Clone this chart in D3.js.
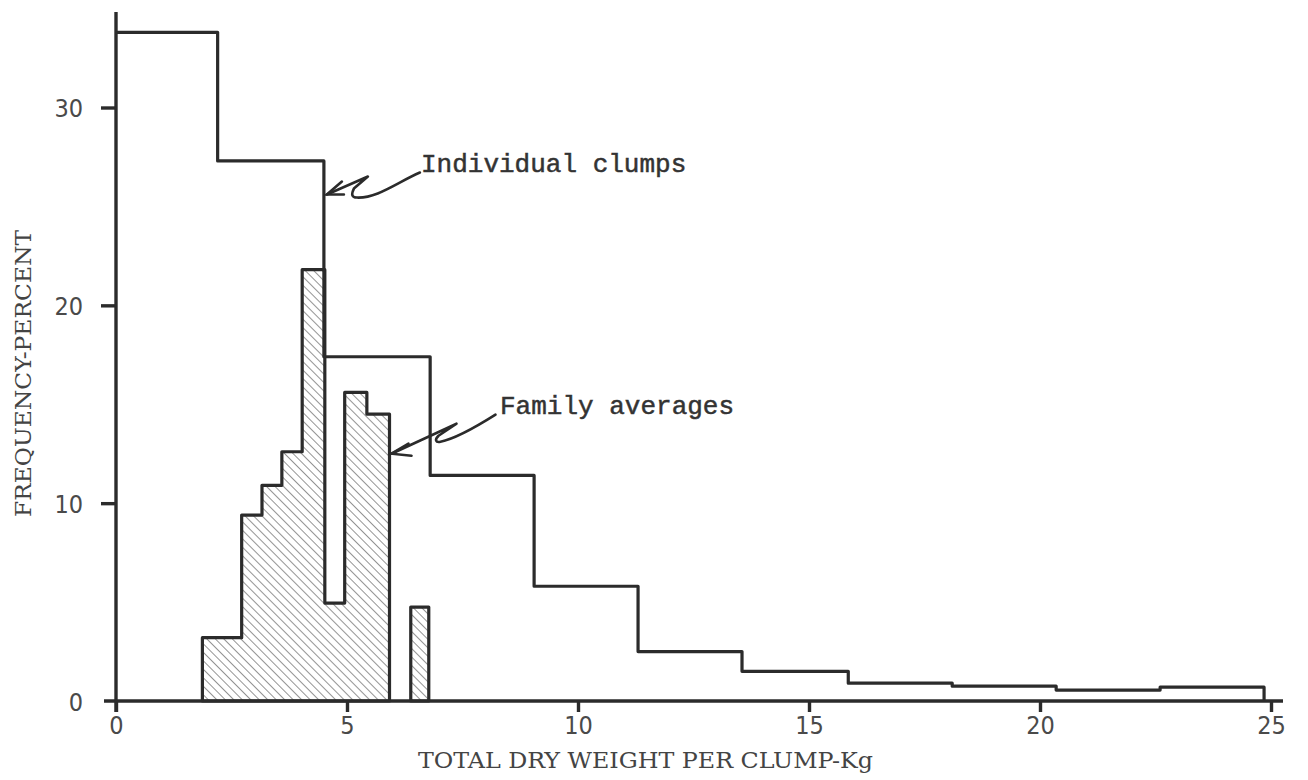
<!DOCTYPE html>
<html>
<head>
<meta charset="utf-8">
<script src="https://cdn.jsdelivr.net/npm/d3@7"></script>
<style>
  body { margin: 0; background: #fff; }
  svg { display: block; }
</style>
</head>
<body>
<script>
'use strict';

// individual clumps, bins of about 2.25 kg
let clumpEdges = [0, 2.2, 4.5, 6.8, 9.05, 11.3, 13.55, 15.85, 18.1, 20.35, 22.6, 24.85];
let clumpPct = [33.8, 27.3, 17.4, 11.4, 5.8, 2.5, 1.5, 0.9, 0.75, 0.55, 0.7];

// family averages, bins of about 0.45 kg (0 = empty bin)
let familyEdges = [1.87, 2.72, 3.16, 3.59, 4.03, 4.52, 4.95, 5.43, 5.92, 6.38, 6.77];
let familyPct = [3.2, 9.4, 10.9, 12.6, 21.8, 4.95, 15.6, 14.5, 0, 4.75];

let xTicks = [0, 5, 10, 15, 20, 25];
let yTicks = [0, 10, 20, 30];

const ink = '#2b2b2b';

let svg = d3.select('body').append('svg')
  .attr('width', 1308)
  .attr('height', 780);

let xScale = d3.scaleLinear().domain([0, 25]).range([116, 1271]);
let yScale = d3.scaleLinear().domain([0, 30]).range([701, 107.5]);

// hatch pattern for family averages
let defs = svg.append('defs');
defs.append('pattern')
  .attr('id', 'hatch')
  .attr('patternUnits', 'userSpaceOnUse')
  .attr('width', 6)
  .attr('height', 6)
  .attr('patternTransform', 'rotate(-45)')
  .append('line')
    .attr('x1', 0).attr('y1', 0)
    .attr('x2', 0).attr('y2', 6)
    .attr('stroke', '#666')
    .attr('stroke-width', 1.4);

// split family bins into runs of non-empty bins
let runs = [];
let cur = null;
familyPct.forEach(function(v, i) {
  if (v > 0) {
    if (!cur) { cur = []; runs.push(cur); }
    cur.push({x: familyEdges[i], y: v});
    cur.end = familyEdges[i + 1];
  } else {
    cur = null;
  }
});
runs.forEach(function(r) { r.push({x: r.end, y: r[r.length - 1].y}); });

let area = d3.area()
  .curve(d3.curveStepAfter)
  .x(d => xScale(d.x))
  .y0(yScale(0))
  .y1(d => yScale(d.y));

svg.selectAll('.family')
  .data(runs)
  .enter().append('path')
    .attr('class', 'family')
    .attr('d', d => area(d) )
    .attr('fill', 'url(#hatch)')
    .attr('stroke', ink)
    .attr('stroke-width', 3.2)
    .attr('stroke-linejoin', 'round');

// individual clumps step line
let clumpPts = clumpPct.map((v, i) => ({x: clumpEdges[i], y: v}));
clumpPts.push({x: clumpEdges[clumpEdges.length - 1], y: clumpPct[clumpPct.length - 1]});
clumpPts.push({x: clumpEdges[clumpEdges.length - 1], y: 0});

let line = d3.line()
  .curve(d3.curveStepAfter)
  .x(d => xScale(d.x))
  .y(d => yScale(d.y));

svg.append('path')
  .attr('d', line(clumpPts))
  .attr('fill', 'none')
  .attr('stroke', ink)
  .attr('stroke-width', 3.2)
  .attr('stroke-linejoin', 'round');

// axes
let xAxis = d3.axisBottom(xScale).tickValues(xTicks).tickSize(11).tickPadding(4)
  .tickFormat(d3.format('d'));
let gx = svg.append('g')
  .attr('transform', 'translate(0,' + yScale(0) + ')')
  .call(xAxis);
gx.select('.domain').remove();
gx.append('line')
  .attr('x1', 104).attr('x2', 1283)
  .attr('stroke', ink).attr('stroke-width', 3.4);

let yAxis = d3.axisLeft(yScale).tickValues(yTicks).tickSize(15).tickPadding(18)
  .tickFormat(d3.format('d'));
let gy = svg.append('g')
  .attr('transform', 'translate(' + xScale(0) + ',0)')
  .call(yAxis);
gy.select('.domain').remove();
gy.append('line')
  .attr('y1', 12).attr('y2', 712)
  .attr('stroke', ink).attr('stroke-width', 3.4);

svg.selectAll('.tick line')
  .attr('stroke', ink)
  .attr('stroke-width', 3.4);
svg.selectAll('.tick text')
  .attr('fill', '#4a4a4a')
  .style('font-family', '"DejaVu Sans Condensed", "DejaVu Sans", sans-serif')
  .style('font-size', '25px');
gy.selectAll('.tick text').attr('dy', '0.36em');
gy.selectAll('.tick').filter(d => d === 0).select('line').remove();

// axis titles
svg.append('text')
  .attr('x', 418)
  .attr('y', 768)
  .attr('textLength', 455)
  .attr('lengthAdjust', 'spacingAndGlyphs')
  .attr('fill', '#444')
  .style('font-family', '"DejaVu Serif Condensed", "DejaVu Serif", serif')
  .style('font-size', '23px')
  .text('TOTAL DRY WEIGHT PER CLUMP-Kg');

svg.append('text')
  .attr('transform', 'translate(31,517)rotate(-90)')
  .attr('textLength', 287)
  .attr('lengthAdjust', 'spacingAndGlyphs')
  .attr('fill', '#444')
  .style('font-family', '"DejaVu Serif Condensed", "DejaVu Serif", serif')
  .style('font-size', '23px')
  .text('FREQUENCY-PERCENT');

// annotations with hand drawn leaders
function leader(tx, ty, d, head) {
  let g = svg.append('g').attr('transform', 'translate(' + tx + ',' + ty + ')');
  g.append('path')
    .attr('d', d)
    .attr('fill', 'none')
    .attr('stroke', ink)
    .attr('stroke-width', 2.6)
    .attr('stroke-linejoin', 'round')
    .attr('stroke-linecap', 'round');
  g.append('path')
    .attr('d', head)
    .attr('fill', 'none')
    .attr('stroke', ink)
    .attr('stroke-width', 2.6)
    .attr('stroke-linecap', 'round');
}

// tip at the individual clumps line
leader(xScale(4.5) + 3, yScale(25.6),
  'M93,-22 C70,-12 50,4 30,3 C25,3 24,0 27,-6 L41,-18 L0,0',
  'M15,-13 L0,0 L17,0');
svg.append('text')
  .attr('x', 421).attr('y', 172)
  .attr('fill', '#333')
  .attr('stroke', '#333')
  .attr('stroke-width', 0.5)
  .style('font-family', '"Liberation Mono", "Courier New", monospace')
  .style('font-size', '26px')
  .text('Individual clumps');

// tip at the family averages outline
leader(xScale(5.92) + 2, yScale(12.5),
  'M104,-39 C85,-27 65,-15 49,-12 C44,-11 43,-14 47,-18 L65,-30 L0,0',
  'M17,-10 L0,0 L20,2');
svg.append('text')
  .attr('x', 500).attr('y', 414)
  .attr('fill', '#333')
  .attr('stroke', '#333')
  .attr('stroke-width', 0.5)
  .style('font-family', '"Liberation Mono", "Courier New", monospace')
  .style('font-size', '26px')
  .text('Family averages');
</script>
</body>
</html>
